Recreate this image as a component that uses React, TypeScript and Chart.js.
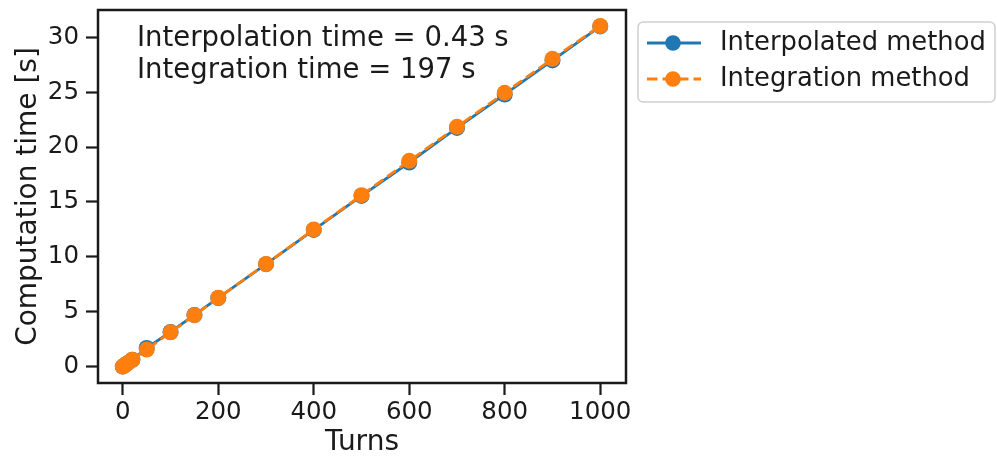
import React, { useEffect, useRef } from "react";
import { Chart, registerables } from "chart.js";

Chart.register(...registerables);

const turns = [0, 5, 10, 20, 50, 100, 150, 200, 300, 400, 500, 600, 700, 800, 900, 1000];
const interpolatedTime = [0.0, 0.16, 0.31, 0.62, 1.7, 3.15, 4.7, 6.25, 9.33, 12.45, 15.55, 18.6, 21.75, 24.8, 27.9, 31.0];
const integrationTime = [0.0, 0.16, 0.31, 0.62, 1.55, 3.12, 4.68, 6.27, 9.35, 12.5, 15.62, 18.75, 21.85, 24.95, 28.05, 31.05];
const xTicks = [0, 200, 400, 600, 800, 1000];
const yTicks = [0, 5, 10, 15, 20, 25, 30];
const seriesLabels = ["Interpolated method", "Integration method"];
const annotations = ["Interpolation time = 0.43 s", "Integration time = 197 s"];

const BLUE = "#1f77b4";
const ORANGE = "#ff7f0e";
const INK = "#1a1a1a";
const FONT = "'DejaVu Sans', sans-serif";

export default function App() {
  const ref = useRef<HTMLCanvasElement | null>(null);

  useEffect(() => {
    if (!ref.current) return;

    const framePlugin = {
      id: "frame",
      afterDraw(chart: any) {
        const { ctx, chartArea } = chart;
        const { left, right, top, bottom } = chartArea;
        ctx.save();
        ctx.strokeStyle = INK;
        ctx.lineWidth = 2.5;
        ctx.strokeRect(left, top, right - left, bottom - top);

        // annotations
        ctx.fillStyle = INK;
        ctx.font = `27.5px ${FONT}`;
        ctx.textBaseline = "middle";
        ctx.textAlign = "left";
        ctx.fillText(annotations[0], 137, 39);
        ctx.fillText(annotations[1], 137, 71);

        // legend
        const lx = 638, ly = 22, lw = 357, lh = 80;
        ctx.beginPath();
        ctx.strokeStyle = "#d0d0d0";
        ctx.lineWidth = 1.5;
        if ((ctx as any).roundRect) (ctx as any).roundRect(lx, ly, lw, lh, 5);
        else ctx.rect(lx, ly, lw, lh);
        ctx.fillStyle = "rgba(255,255,255,0.85)";
        ctx.fill();
        ctx.stroke();

        const rows = [
          { y: 43, color: BLUE, dash: [] as number[] },
          { y: 79, color: ORANGE, dash: [10.5, 5] },
        ];
        rows.forEach((r, i) => {
          ctx.beginPath();
          ctx.strokeStyle = r.color;
          ctx.lineWidth = 2.8;
          ctx.setLineDash(r.dash);
          ctx.moveTo(647, r.y);
          ctx.lineTo(701, r.y);
          ctx.stroke();
          ctx.setLineDash([]);
          ctx.beginPath();
          ctx.fillStyle = r.color;
          ctx.arc(673, r.y, 7.8, 0, Math.PI * 2);
          ctx.fill();
          ctx.fillStyle = INK;
          ctx.font = `25.8px ${FONT}`;
          ctx.textBaseline = "middle";
          ctx.fillText(seriesLabels[i], 720, r.y);
        });
        ctx.restore();
      },
    };

    const chart = new Chart(ref.current, {
      type: "line",
      data: {
        datasets: [
          {
            label: seriesLabels[0],
            data: turns.map((t, i) => ({ x: t, y: interpolatedTime[i] })),
            borderColor: BLUE,
            backgroundColor: BLUE,
            borderWidth: 2.8,
            pointRadius: 8,
            pointBorderWidth: 0,
            pointHoverRadius: 8,
            tension: 0,
            order: 2,
          },
          {
            label: seriesLabels[1],
            data: turns.map((t, i) => ({ x: t, y: integrationTime[i] })),
            borderColor: ORANGE,
            backgroundColor: ORANGE,
            borderWidth: 2.8,
            borderDash: [10.5, 5],
            pointRadius: 8,
            pointBorderWidth: 0,
            pointHoverRadius: 8,
            tension: 0,
            order: 1,
          },
        ],
      },
      options: {
        animation: false,
        responsive: false,
        maintainAspectRatio: false,
        layout: { padding: { left: 0, right: 371, top: 10, bottom: 0 } },
        plugins: {
          legend: { display: false },
          tooltip: { enabled: false },
        },
        scales: {
          x: {
            type: "linear",
            min: -52,
            max: 1054,
            afterBuildTicks: (s: any) => {
              s.ticks = xTicks.map((v) => ({ value: v }));
            },
            afterFit: (s: any) => {
              s.height = 74;
              s.paddingLeft = 0;
              s.paddingRight = 0;
            },
            border: { display: false },
            grid: {
              drawOnChartArea: false,
              drawTicks: true,
              tickLength: 12,
              tickWidth: 2.2,
              tickColor: INK,
              color: INK,
            },
            ticks: {
              color: INK,
              font: { family: FONT, size: 24.5 },
              padding: 3,
              maxRotation: 0,
              autoSkip: false,
              callback: (v: any) => String(v),
            },
            title: {
              display: true,
              text: "Turns",
              color: INK,
              font: { family: FONT, size: 28, lineHeight: 1.05 },
              padding: { top: 0, bottom: 0 },
            },
          },
          y: {
            type: "linear",
            min: -1.5,
            max: 32.5,
            afterBuildTicks: (s: any) => {
              s.ticks = yTicks.map((v) => ({ value: v }));
            },
            afterFit: (s: any) => {
              s.width = 98;
              s.paddingTop = 0;
              s.paddingBottom = 0;
            },
            border: { display: false },
            grid: {
              drawOnChartArea: false,
              drawTicks: true,
              tickLength: 12,
              tickWidth: 2.2,
              tickColor: INK,
              color: INK,
            },
            ticks: {
              color: INK,
              font: { family: FONT, size: 24.5 },
              padding: 7,
              autoSkip: false,
              callback: (v: any) => String(v),
            },
            title: {
              display: true,
              text: "Computation time [s]",
              color: INK,
              font: { family: FONT, size: 28 },
              padding: { top: 12, bottom: 0 },
            },
          },
        },
      },
      plugins: [framePlugin],
    } as any);

    return () => chart.destroy();
  }, []);

  return (
    <div style={{ position: "fixed", left: 0, top: 0, width: 997, height: 457, background: "#fff" }}>
      <canvas ref={ref} width={997} height={457} style={{ display: "block", width: 997, height: 457 }} />
    </div>
  );
}
